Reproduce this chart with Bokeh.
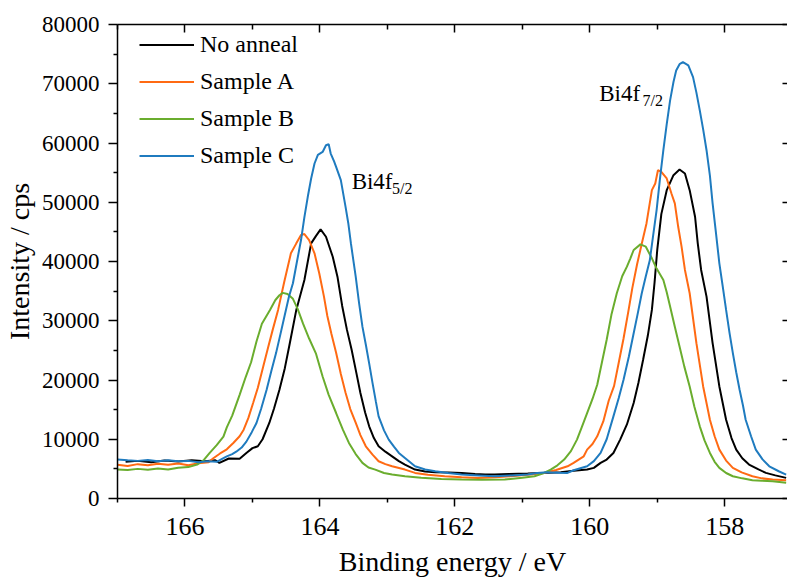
from bokeh.plotting import figure
from bokeh.models import Range1d, LinearAxis, FixedTicker
from bokeh.core.properties import value
from bokeh.embed import file_html
from bokeh.resources import INLINE

# ---------------- data (binding energy in eV, intensity in cps) ----------------
be_none = [166.88, 166.70, 166.50, 166.30, 166.10, 165.90, 165.70, 165.55, 165.49, 165.35,
           165.19, 165.09, 165.00, 164.92, 164.85, 164.75, 164.68, 164.60, 164.52, 164.45,
           164.35, 164.23, 164.13, 164.06, 163.99, 163.91, 163.81, 163.74, 163.67, 163.60,
           163.53, 163.46, 163.40, 163.33, 163.27, 163.20, 163.13, 163.03, 162.93, 162.83,
           162.74, 162.59, 162.44, 162.29, 162.10, 161.90, 161.70, 161.55, 161.41, 161.20,
           160.92, 160.70, 160.43, 160.24, 160.04, 159.94, 159.84, 159.75, 159.65, 159.55,
           159.45, 159.35, 159.28, 159.21, 159.14, 159.08, 159.04, 159.00, 158.94, 158.86,
           158.76, 158.67, 158.59, 158.52, 158.44, 158.40, 158.35, 158.27, 158.18, 158.08,
           157.98, 157.90, 157.83, 157.74, 157.64, 157.50, 157.39, 157.25, 157.09]
int_none = [6200, 6350, 6100, 6400, 6250, 6450, 6300, 6450, 6000, 6750,
            6700, 7690, 8500, 8810, 10000, 12750, 15200, 18360, 22000, 26000,
            31830, 36880, 43060, 44290, 45420, 44180, 40800, 37440, 32500, 28500,
            25100, 21200, 17800, 14500, 12180, 10200, 8810, 7900, 7120, 6300,
            5730, 4880, 4550, 4430, 4400, 4320, 4150, 4050, 4040, 4150,
            4210, 4300, 4430, 4700, 4880, 5170, 6010, 6570, 7690, 9940,
            12500, 16120, 19500, 23410, 27500, 31830, 36500, 42000, 48000, 52040,
            54570, 55520, 54850, 52040, 47550, 43060, 38570, 34070, 26220, 18910,
            13300, 10200, 8250, 6800, 5730, 4900, 4320, 3900, 3480]

be_a = [167.00, 166.85, 166.70, 166.55, 166.40, 166.25, 166.10, 165.95, 165.80, 165.65,
        165.58, 165.48, 165.38, 165.28, 165.19, 165.13, 165.06, 164.99, 164.92, 164.84,
        164.77, 164.70, 164.62, 164.53, 164.43, 164.35, 164.28, 164.23, 164.16, 164.08,
        164.01, 163.94, 163.89, 163.83, 163.76, 163.69, 163.62, 163.55, 163.47, 163.40,
        163.32, 163.22, 163.13, 163.03, 162.93, 162.74, 162.59, 162.40, 162.15, 161.90,
        161.66, 161.40, 161.17, 160.92, 160.68, 160.50, 160.33, 160.24, 160.09, 160.04,
        159.96, 159.89, 159.80, 159.72, 159.64, 159.57, 159.50, 159.43, 159.37, 159.30,
        159.23, 159.16, 159.08, 159.03, 158.99, 158.94, 158.86, 158.79, 158.74, 158.69,
        158.64, 158.59, 158.52, 158.42, 158.32, 158.22, 158.15, 158.08, 157.98, 157.88,
        157.75, 157.59, 157.45, 157.29, 157.09]
int_a = [5700, 5500, 5800, 5600, 5850, 5700, 5900, 5600, 5950, 6100,
         6800, 7600, 8300, 9400, 10500, 11620, 13600, 16120, 18700, 22280,
         25400, 28460, 31830, 36500, 41380, 43060, 44460, 44630, 43620, 41380,
         38010, 34070, 30800, 27800, 24590, 21000, 17850, 15100, 12800, 10700,
         8810, 7400, 6290, 5800, 5440, 4880, 4320, 4000, 3760, 3600,
         3480, 3600, 3760, 4000, 4320, 4800, 5440, 6010, 7120, 8250,
         9200, 10500, 13000, 16500, 19000, 23000, 27000, 31500, 35500, 39500,
         43000, 46430, 52040, 53170, 55410, 55130, 54010, 51480, 49800, 45860,
         42500, 38570, 34640, 26220, 18910, 13300, 10500, 8250, 6400, 5170,
         4400, 3760, 3400, 3200, 3090]

be_b = [167.00, 166.85, 166.70, 166.55, 166.40, 166.25, 166.10, 165.95, 165.82, 165.72,
        165.63, 165.53, 165.43, 165.38, 165.30, 165.19, 165.10, 165.02, 164.94, 164.86,
        164.74, 164.66, 164.60, 164.55, 164.48, 164.40, 164.33, 164.25, 164.16, 164.06,
        163.96, 163.87, 163.76, 163.66, 163.57, 163.47, 163.37, 163.28, 163.18, 163.05,
        162.93, 162.74, 162.50, 162.20, 161.90, 161.60, 161.26, 161.00, 160.82, 160.70,
        160.58, 160.48, 160.38, 160.28, 160.19, 160.12, 160.04, 159.96, 159.89, 159.82,
        159.75, 159.68, 159.60, 159.52, 159.45, 159.40, 159.35, 159.25, 159.17, 159.08,
        159.01, 158.91, 158.86, 158.81, 158.74, 158.67, 158.60, 158.52, 158.45, 158.37,
        158.30, 158.22, 158.15, 158.08, 157.98, 157.88, 157.74, 157.59, 157.45, 157.29,
        157.09]
int_b = [4900, 4800, 5000, 4850, 5050, 4900, 5200, 5300, 5730, 6500,
         7750, 9000, 10440, 12000, 14000, 17500, 20500, 23000, 26500, 29500,
         31830, 33500, 34300, 34700, 34500, 33700, 32000, 29500, 27000, 24500,
         20600, 17500, 14430, 11620, 9380, 7500, 6010, 5220, 4880, 4300,
         4040, 3760, 3500, 3300, 3200, 3150, 3200, 3500, 3760, 4200,
         4880, 5600, 6570, 8000, 9940, 12000, 14400, 16800, 19200, 23000,
         26800, 31000, 34640, 37500, 39130, 40500, 41940, 42890, 42500, 40540,
         38800, 36880, 34800, 32390, 29000, 25650, 22300, 18910, 15500, 12180,
         9800, 7690, 6200, 5170, 4300, 3760, 3400, 3090, 3000, 2920,
         2640]

be_c = [167.00, 166.85, 166.70, 166.55, 166.40, 166.25, 166.10, 165.95, 165.80, 165.66,
        165.53, 165.45, 165.38, 165.30, 165.24, 165.16, 165.09, 165.01, 164.94, 164.87,
        164.79, 164.72, 164.65, 164.58, 164.52, 164.46, 164.40, 164.34, 164.28, 164.23,
        164.18, 164.13, 164.08, 164.03, 163.96, 163.91, 163.87, 163.84, 163.79, 163.76,
        163.69, 163.62, 163.58, 163.54, 163.47, 163.42, 163.37, 163.32, 163.27, 163.22,
        163.17, 163.13, 163.05, 162.98, 162.90, 162.83, 162.74, 162.59, 162.44, 162.29,
        162.10, 161.90, 161.65, 161.41, 161.15, 160.92, 160.78, 160.63, 160.48, 160.33,
        160.24, 160.04, 159.94, 159.84, 159.75, 159.65, 159.57, 159.50, 159.42, 159.35,
        159.29, 159.23, 159.17, 159.11, 159.06, 159.01, 158.96, 158.91, 158.86, 158.81,
        158.76, 158.72, 158.67, 158.62, 158.54, 158.47, 158.42, 158.37, 158.32, 158.27,
        158.22, 158.18, 158.13, 158.08, 158.03, 157.98, 157.93, 157.88, 157.83, 157.78,
        157.73, 157.69, 157.61, 157.54, 157.44, 157.34, 157.20, 157.09]
int_c = [6600, 6450, 6350, 6500, 6300, 6450, 6300, 6350, 6100, 6300,
         6200, 6700, 7120, 7500, 7900, 8600, 9600, 11200, 12750, 15200,
         18360, 21500, 24540, 28000, 31000, 34000, 36320, 40000, 43620, 47500,
         50920, 54000, 56540, 58000, 58490, 59620, 59790, 58220, 56900, 55970,
         53730, 49230, 46500, 43000, 37500, 33000, 29000, 26000, 22800, 19480,
         16300, 13860, 11500, 9940, 8700, 7690, 6850, 5440, 4900, 4600,
         4300, 4040, 3900, 3760, 3900, 4040, 4300, 4430, 4350, 4320,
         4770, 5440, 6300, 7690, 10000, 13860, 17000, 20040, 24000, 27900,
         31200, 34640, 37500, 40250, 44500, 48670, 54000, 58780, 63200, 67200,
         70300, 72250, 73300, 73650, 73090, 71120, 68500, 65510, 62300, 58780,
         54500, 49800, 44800, 39690, 35800, 31830, 28000, 24540, 21300, 18360,
         15700, 13300, 10500, 8250, 6600, 5440, 4600, 4040]

series_names = ["No anneal", "Sample A", "Sample B", "Sample C"]
series_colors = ["#000000", "#ff6a13", "#6aad2e", "#1f7bbf"]

x_major = [166, 164, 162, 160, 158]
x_minor = [167, 165, 163, 161, 159, 157]
y_major = [0, 10000, 20000, 30000, 40000, 50000, 60000, 70000, 80000]
y_minor = [5000, 15000, 25000, 35000, 45000, 55000, 65000, 75000]

FONT = "'Liberation Serif', serif"

p = figure(width=787, height=579, output_backend="svg", toolbar_location=None,
           x_range=Range1d(167.0, 157.07), y_range=Range1d(0, 80000),
           min_border_left=112, min_border_right=0, min_border_top=24, min_border_bottom=80,
           x_axis_label="Binding energy / eV", y_axis_label="Intensity / cps")
p.xgrid.visible = False
p.ygrid.visible = False
p.outline_line_color = None
p.background_fill_color = "white"
p.border_fill_color = "white"

for be, inten, name, col in zip([be_none, be_a, be_b, be_c], [int_none, int_a, int_b, int_c],
                                series_names, series_colors):
    p.line(be, inten, line_color=col, line_width=2, legend_label=name)

# bottom axis
xa = p.xaxis[0]
xa.ticker = FixedTicker(ticks=x_major, minor_ticks=x_minor)
xa.major_tick_out = 8
xa.major_tick_in = 0
xa.minor_tick_out = 4
xa.minor_tick_in = 0
xa.axis_line_width = 1.5
xa.major_tick_line_width = 1.5
xa.minor_tick_line_width = 1.5
xa.major_label_text_font = FONT
xa.major_label_text_font_size = "26px"
xa.major_label_text_color = "black"
xa.major_label_standoff = 11
xa.axis_label_text_font = FONT
xa.axis_label_text_font_size = "28px"
xa.axis_label_text_font_style = "normal"
xa.axis_label_text_color = "black"
xa.axis_label_standoff = 8

# left axis
ya = p.yaxis[0]
ya.ticker = FixedTicker(ticks=y_major, minor_ticks=y_minor)
ya.major_tick_out = 9
ya.major_tick_in = 0
ya.minor_tick_out = 4
ya.minor_tick_in = 0
ya.axis_line_width = 1.5
ya.major_tick_line_width = 1.5
ya.minor_tick_line_width = 1.5
ya.major_label_text_font = FONT
ya.major_label_text_font_size = "23px"
ya.major_label_text_color = "black"
ya.major_label_standoff = 9
ya.axis_label_text_font = FONT
ya.axis_label_text_font_size = "28px"
ya.axis_label_text_font_style = "normal"
ya.axis_label_text_color = "black"
ya.axis_label_standoff = 4

# top axis (ticks inward, no labels)
top = LinearAxis(ticker=FixedTicker(ticks=x_major, minor_ticks=x_minor),
                 major_tick_in=8, major_tick_out=0, minor_tick_in=5, minor_tick_out=0,
                 axis_line_width=1.5, major_tick_line_width=1.5, minor_tick_line_width=1.5,
                 major_label_text_font_size="0px", major_label_standoff=0,
                 major_label_overrides={t: "" for t in x_major})
p.add_layout(top, "above")

# right axis (ticks inward, no labels, line outside the view)
right = LinearAxis(ticker=FixedTicker(ticks=y_major, minor_ticks=[]),
                   major_tick_in=5, major_tick_out=0, minor_tick_in=0, minor_tick_out=0,
                   axis_line_color=None, major_tick_line_width=1.5,
                   major_label_text_font_size="0px", major_label_standoff=0,
                   major_label_overrides={t: "" for t in y_major})
p.add_layout(right, "right")

# peak annotations
p.text(x=[163.53], y=[53440], text=["Bi4f"], text_font=value(FONT), text_font_size="23px",
       text_baseline="alphabetic", text_align="left", text_color="black")
p.text(x=[162.93], y=[52380], text=["5/2"], text_font=value(FONT), text_font_size="16px",
       text_baseline="alphabetic", text_align="left", text_color="black")
p.text(x=[159.86], y=[68330], text=["Bi4f"], text_font=value(FONT), text_font_size="23px",
       text_baseline="alphabetic", text_align="left", text_color="black")
p.text(x=[159.22], y=[67200], text=["7/2"], text_font=value(FONT), text_font_size="16px",
       text_baseline="alphabetic", text_align="left", text_color="black")

# legend
lg = p.legend[0]
lg.location = (22, 327)
lg.border_line_color = None
lg.background_fill_alpha = 0
lg.padding = 0
lg.margin = 0
lg.spacing = 6
lg.glyph_width = 55
lg.glyph_height = 31
lg.label_height = 31
lg.label_standoff = 6
lg.label_text_font = FONT
lg.label_text_font_size = "24px"
lg.label_text_color = "black"

open("out.html", "w").write(file_html(p, INLINE))
